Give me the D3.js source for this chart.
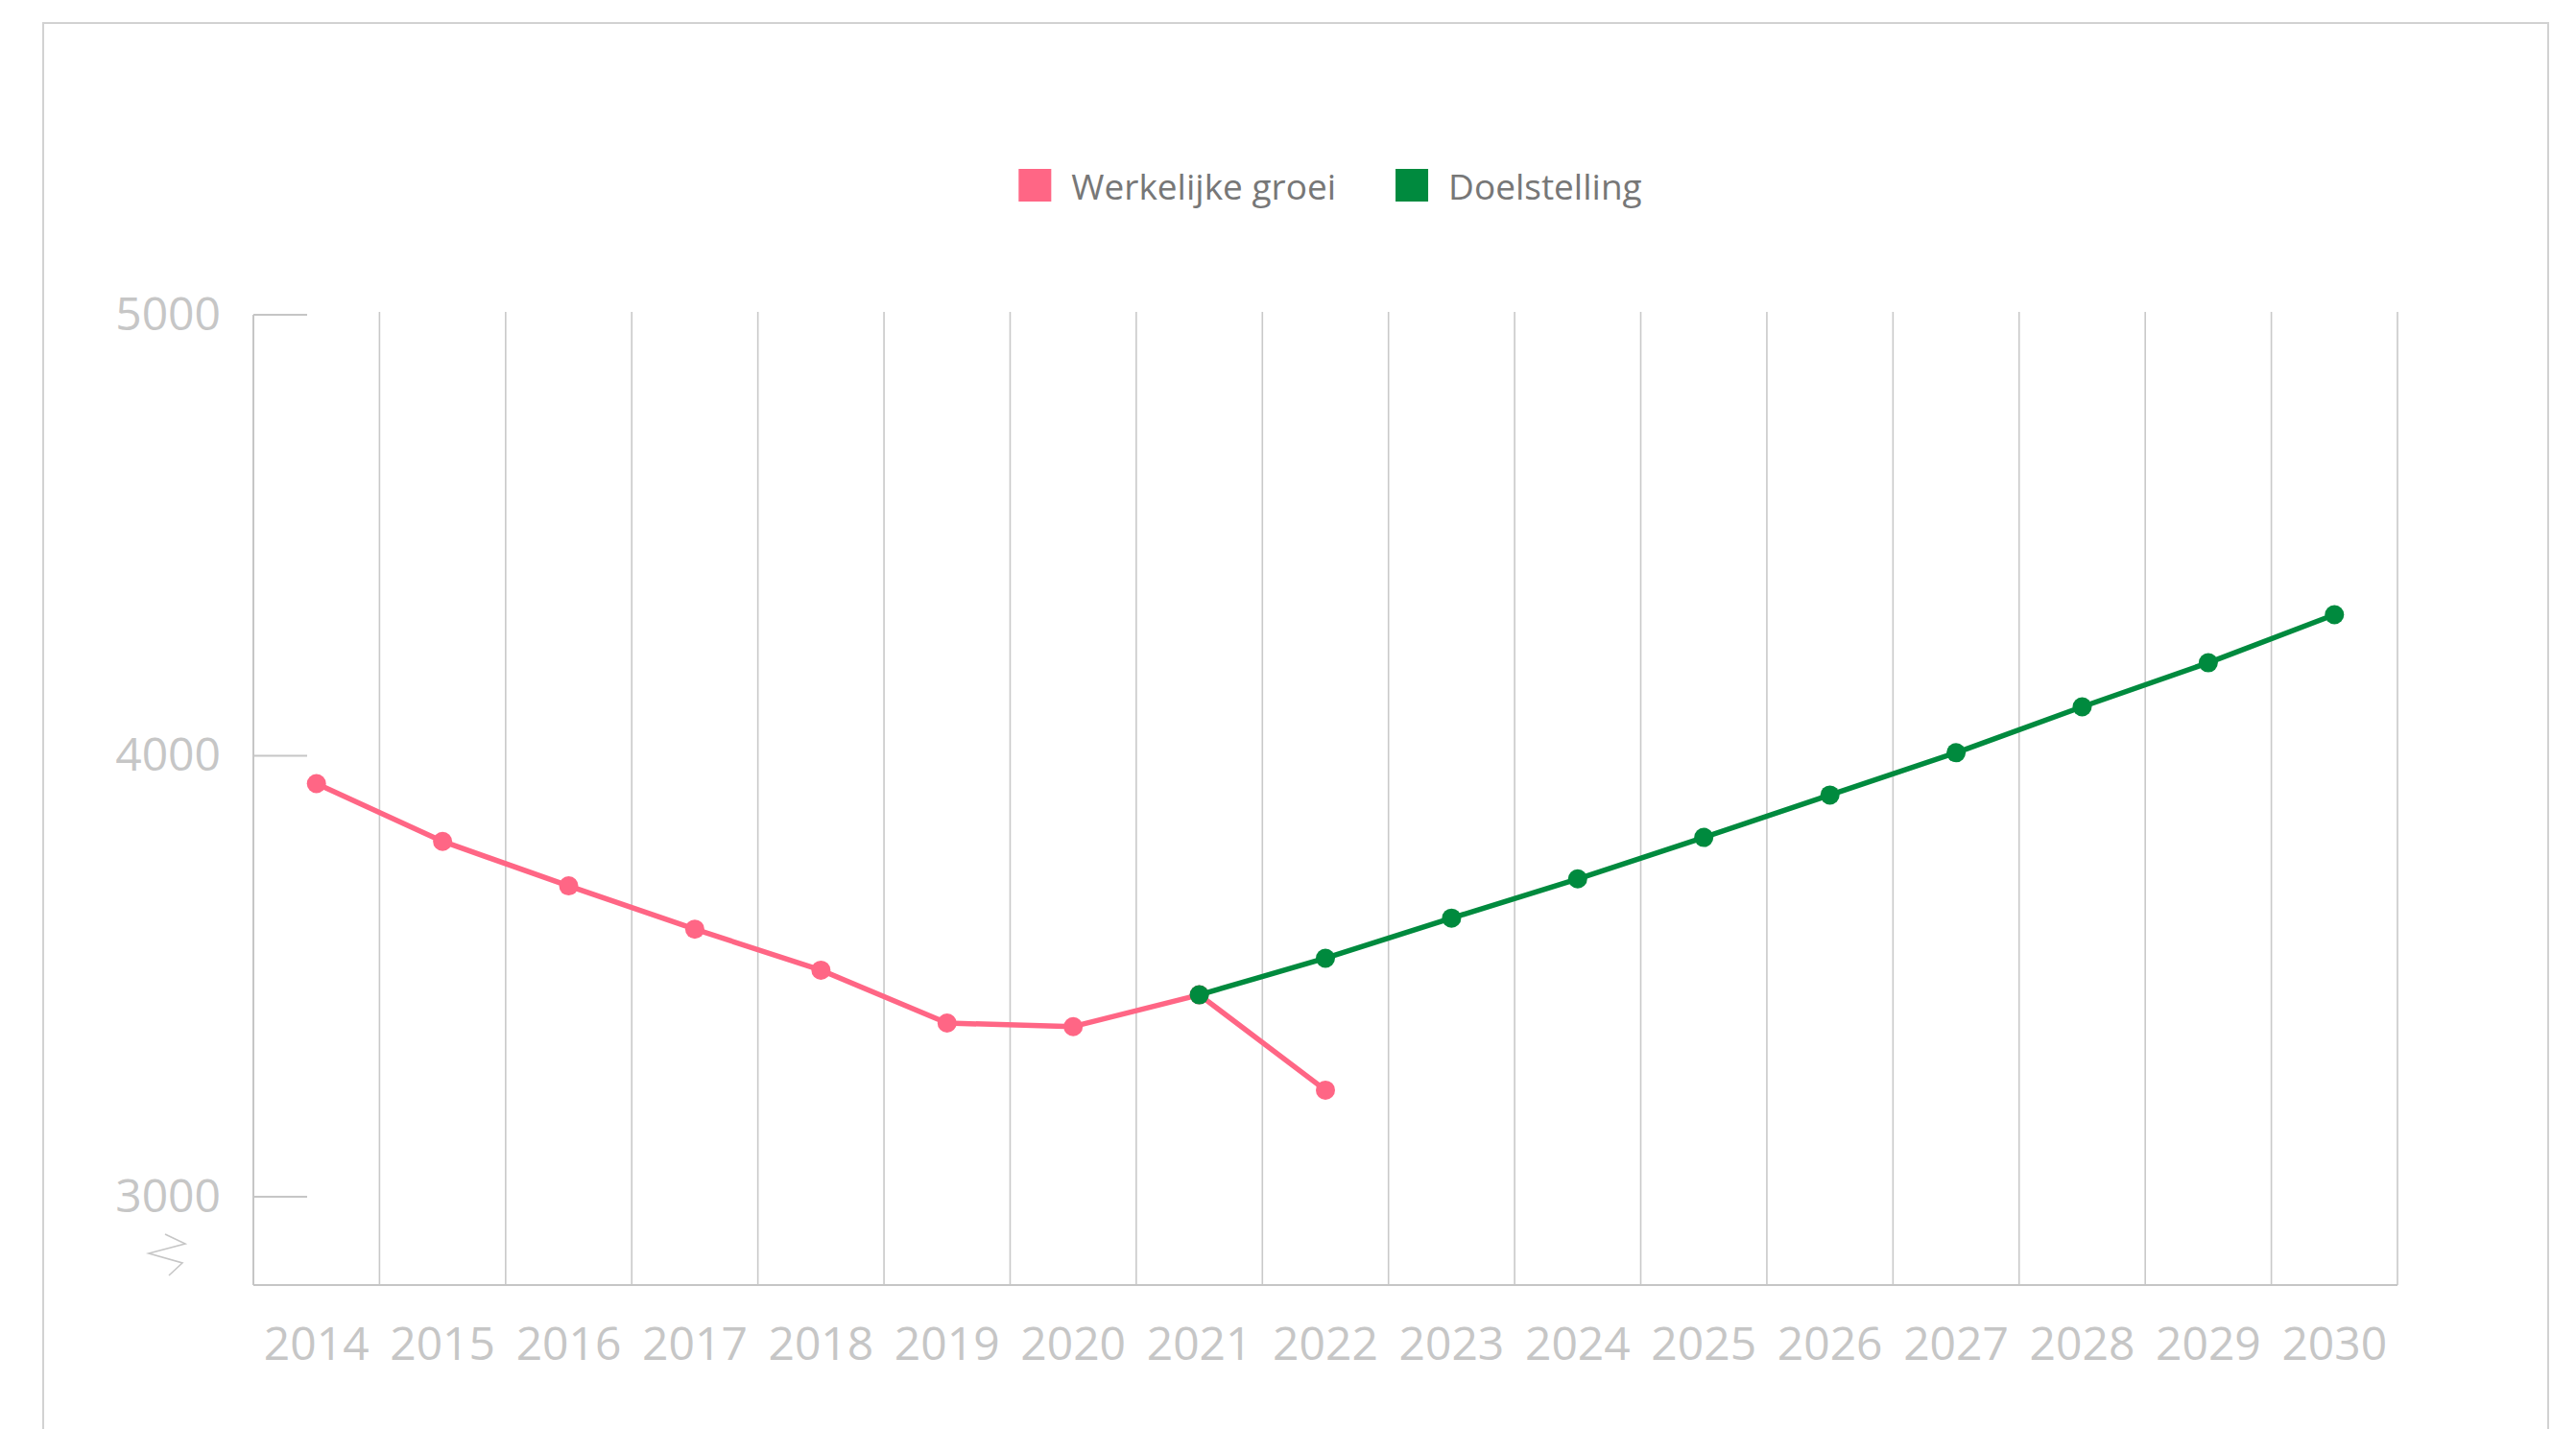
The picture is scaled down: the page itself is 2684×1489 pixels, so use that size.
<!DOCTYPE html>
<meta charset="utf-8">
<style>
body { margin: 0; background: #fff; }
svg { display: block; font-family: "Open Sans", sans-serif; }
.grid line { stroke: #c9c9c9; stroke-width: 1.6px; }
.axis text { fill: #c6c6c6; font-size: 48px; font-family: "Open Sans", sans-serif; font-stretch: 92%; }
.axis path, .axis line { stroke: #c6c6c6; stroke-width: 2px; }
.legend text { fill: #777; font-size: 37px; }
</style>
<svg width="2684" height="1489"></svg>
<script src="https://cdn.jsdelivr.net/npm/d3@7"></script>
<script>
// years on the x axis
var years = [2014, 2015, 2016, 2017, 2018, 2019, 2020, 2021, 2022, 2023,
             2024, 2025, 2026, 2027, 2028, 2029, 2030];

// actual growth (pink), 2014 - 2022
var actualYears = [2014, 2015, 2016, 2017, 2018, 2019, 2020, 2021, 2022];
var actualValues = [3937, 3806, 3705, 3607, 3514, 3394, 3386, 3458, 3242];

// target (green), 2021 - 2030
var targetYears = [2021, 2022, 2023, 2024, 2025, 2026, 2027, 2028, 2029, 2030];
var targetValues = [3458, 3541, 3632, 3721, 3815, 3911, 4007, 4111, 4211, 4320];

var yTicks = [3000, 4000, 5000];
var seriesNames = ["Werkelijke groei", "Doelstelling"];
var seriesColors = ["#ff6685", "#008a3e"];

var svg = d3.select("svg");

// outer frame
svg.append("rect")
    .attr("x", 45).attr("y", 24)
    .attr("width", 2610).attr("height", 1500)
    .attr("fill", "none")
    .attr("stroke", "#d2d2d2")
    .attr("stroke-width", 2);

var x = d3.scaleBand()
    .domain(years)
    .range([264, 2498])
    .padding(0);

var y = d3.scaleLinear()
    .domain([2800, 5000])
    .range([1339, 328]);

var cx = function(yr) { return x(yr) + x.bandwidth() / 2; };

// vertical grid lines on band edges
var edges = years.map(function(d) { return x(d); }).concat([x.range()[1]]);
svg.append("g")
    .attr("class", "grid")
  .selectAll("line")
  .data(edges.slice(1))
  .enter().append("line")
    .attr("x1", function(d) { return d; })
    .attr("x2", function(d) { return d; })
    .attr("y1", y(5000) - 3)
    .attr("y2", y(2800));

// x axis
svg.append("g")
    .attr("class", "axis axis--x")
    .attr("transform", "translate(0," + y(2800) + ")")
    .call(d3.axisBottom(x).tickSize(0).tickPadding(44))
    .call(function(g) { g.select(".domain").attr("d", "M" + x.range()[0] + ",0H" + x.range()[1]); });

// y axis labels + line
svg.append("g")
    .attr("class", "axis axis--y")
    .attr("transform", "translate(" + x.range()[0] + ",0)")
    .call(d3.axisLeft(y).tickValues(yTicks).tickSize(0).tickPadding(34).tickFormat(d3.format("d")))
    .call(function(g) { g.select(".domain").attr("d", "M0," + y(5000) + "V" + y(2800)); });

// short inner tick marks
svg.append("g")
    .attr("class", "axis")
  .selectAll("line")
  .data([2800].concat(yTicks))
  .enter().append("line")
    .attr("x1", x.range()[0])
    .attr("x2", x.range()[0] + 56)
    .attr("y1", function(d) { return y(d); })
    .attr("y2", function(d) { return y(d); });

// axis break mark under the lowest label
var bx = x.range()[0] - 90, by = y(2800) - 53;
svg.append("path")
    .attr("d", "M" + (bx - 2) + "," + by +
               "L" + (bx + 19) + "," + (by + 10) +
               "L" + (bx - 19) + "," + (by + 20) +
               "L" + (bx + 16) + "," + (by + 30) +
               "L" + (bx + 2) + "," + (by + 43))
    .attr("fill", "none")
    .attr("stroke", "#c6c6c6")
    .attr("stroke-width", 1.6);

var line = d3.line()
    .x(function(d) { return cx(d[0]); })
    .y(function(d) { return y(d[1]); });

function drawSeries(yrs, vals, color) {
  var pts = d3.zip(yrs, vals);
  var g = svg.append("g");
  g.append("path")
      .datum(pts)
      .attr("d", line)
      .attr("fill", "none")
      .attr("stroke", color)
      .attr("stroke-width", 5.5)
      .attr("stroke-linejoin", "round");
  g.selectAll("circle")
      .data(pts)
    .enter().append("circle")
      .attr("cx", function(d) { return cx(d[0]); })
      .attr("cy", function(d) { return y(d[1]); })
      .attr("r", 10)
      .attr("fill", color);
}

drawSeries(actualYears, actualValues, seriesColors[0]);
drawSeries(targetYears, targetValues, seriesColors[1]);

// legend
var legend = svg.append("g").attr("class", "legend");
var items = legend.selectAll("g")
    .data(seriesNames)
  .enter().append("g");
items.append("rect")
    .attr("width", 34).attr("height", 34)
    .attr("y", 176)
    .attr("fill", function(d, i) { return seriesColors[i]; });
items.append("text")
    .attr("x", 55)
    .attr("y", 208)
    .text(function(d) { return d; });

var pos = 0, offsets = [];
items.each(function() {
  offsets.push(pos);
  pos += this.getBBox().width + 62;
});
var total = pos - 62;
var start = 1386 - total / 2;
items.attr("transform", function(d, i) { return "translate(" + (start + offsets[i]) + ",0)"; });
</script>
